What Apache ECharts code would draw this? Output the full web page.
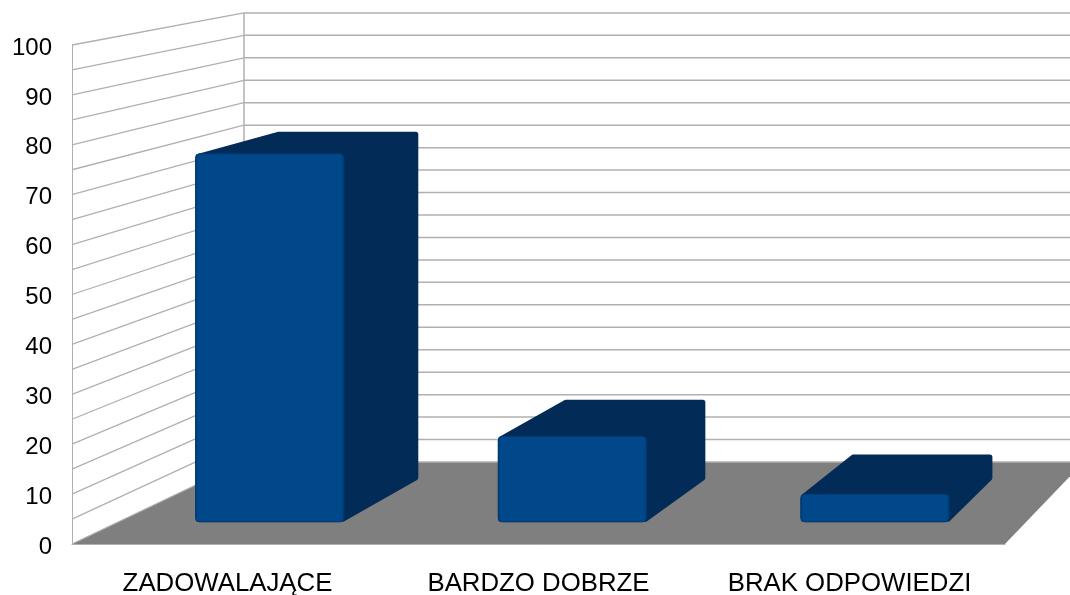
<!DOCTYPE html>
<html>
<head>
<meta charset="utf-8">
<style>
  html, body { margin: 0; padding: 0; background: #fff; }
  #chart { width: 1070px; height: 595px; }
</style>
<script src="https://cdn.jsdelivr.net/npm/echarts@6/dist/echarts.min.js"></script>
</head>
<body>
<div id="chart"></div>
<script>
const categories = ['ZADOWALAJĄCE', 'BARDZO DOBRZE', 'BRAK ODPOWIEDZI'];
const values = [75.8, 17.6, 5.7];
const yTicks = [0, 10, 20, 30, 40, 50, 60, 70, 80, 90, 100];
const gridValues = [0, 5, 10, 15, 20, 25, 30, 35, 40, 45, 50, 55, 60, 65, 70, 75, 80, 85, 90, 95, 100];

// perspective: the grid is the front plane, everything else shrinks towards the vanishing point
const vanish = [1792, -276];
const depthBack = 0.9;
const barFront = 0.973;
const barBack = 0.923;
const barRatio = 0.49;
const inset = 2.5;

const project = (p, s) => [
  vanish[0] + (p[0] - vanish[0]) * s,
  vanish[1] + (p[1] - vanish[1]) * s
];

const gridColor = '#b0b0b0';
const floorColor = '#7f7f7f';
const barColor = '#00488a';
const barEdge = '#003a72';
const barDark = '#022c57';

const line = (a, b, width) => ({
  type: 'line',
  shape: { x1: a[0], y1: a[1], x2: b[0], y2: b[1] },
  style: { stroke: gridColor, lineWidth: width }
});

const renderWalls = (params, api) => {
  const rect = params.coordSys;
  const right = rect.x + rect.width;
  const y = api.coord([0, api.value(0)])[1];
  const children = [];
  if (params.dataIndex === 0) {
    const top = api.coord([0, 100])[1];
    children.push({
      type: 'polygon',
      shape: {
        points: [
          [rect.x, y],
          [right, y],
          project([right, y], depthBack),
          project([rect.x, y], depthBack)
        ]
      },
      style: { fill: floorColor }
    });
    children.push(line(project([rect.x, y], depthBack), project([rect.x, top], depthBack), 1.5));
  }
  const backLeft = project([rect.x, y], depthBack);
  children.push(line([rect.x, y], backLeft, 1.3));
  children.push(line(backLeft, project([right, y], depthBack), 1.5));
  return { type: 'group', children };
};

const renderBar = (params, api) => {
  const idx = api.value(0);
  const top = api.coord([idx, api.value(1)]);
  const base = api.coord([idx, 0]);
  const half = (api.size([1, 0])[0] * barRatio) / 2;
  const l = top[0] - half;
  const r = top[0] + half;

  const fTL = project([l, top[1]], barFront);
  const fTR = project([r, top[1]], barFront);
  const fBR = project([r, base[1]], barFront);
  const bTL = project([l, top[1]], barBack);
  const bTR = project([r, top[1]], barBack);
  const bBR = project([r, base[1]], barBack);

  // dark top and side as one outline, pulled in and stroked wide for the round corners
  const outline = [
    [fTL[0] + inset, fTL[1] + inset],
    [bTL[0] + inset / 2, bTL[1] + inset],
    [bTR[0] - inset, bTR[1] + inset],
    [bBR[0] - inset, bBR[1] - inset * 1.2],
    [fBR[0] - inset / 2, fBR[1] - inset],
    [fTL[0] + inset, fBR[1] - inset]
  ];
  return {
    type: 'group',
    children: [
      {
        type: 'polygon',
        shape: { points: outline },
        style: { fill: barDark, stroke: barDark, lineWidth: inset * 2, lineJoin: 'round' }
      },
      {
        type: 'rect',
        shape: {
          x: fTL[0],
          y: fTL[1],
          width: fTR[0] - fTL[0],
          height: fBR[1] - fTL[1],
          r: 4
        },
        style: {
          fill: new echarts.graphic.LinearGradient(0, 0, 1, 0, [
            { offset: 0, color: barEdge },
            { offset: 0.02, color: barColor },
            { offset: 0.98, color: barColor },
            { offset: 1, color: barEdge }
          ]),
          stroke: barEdge,
          lineWidth: 1
        }
      }
    ]
  };
};

const chart = echarts.init(document.getElementById('chart'));
chart.setOption({
  animation: false,
  backgroundColor: '#fff',
  textStyle: { fontFamily: '"Liberation Sans", Arial, sans-serif' },
  grid: { left: 72, right: 65, top: 45, bottom: 51, containLabel: false, outerBoundsMode: 'none' },
  xAxis: {
    type: 'category',
    data: categories,
    axisTick: { show: false },
    axisLine: { lineStyle: { color: gridColor, width: 1 } },
    axisLabel: { color: '#000', fontSize: 25.8, margin: 27, interval: 0 },
    splitLine: { show: false }
  },
  yAxis: {
    type: 'value',
    min: yTicks[0],
    max: yTicks[yTicks.length - 1],
    interval: yTicks[1] - yTicks[0],
    axisTick: { show: false },
    axisLine: { show: true, lineStyle: { color: gridColor, width: 1 } },
    axisLabel: {
      margin: 20,
      formatter: '{tick|{value}}',
      rich: { tick: { color: '#000', fontSize: 24, padding: [6, 0, 0, 0] } }
    },
    splitLine: { show: false }
  },
  series: [
    {
      type: 'custom',
      silent: true,
      z: 1,
      renderItem: renderWalls,
      encode: { x: 1, y: 0 },
      data: gridValues.map(v => [v, 0])
    },
    {
      type: 'custom',
      silent: true,
      z: 2,
      renderItem: renderBar,
      encode: { x: 0, y: 1 },
      data: values.map((v, i) => [i, v])
    }
  ]
});
</script>
</body>
</html>
